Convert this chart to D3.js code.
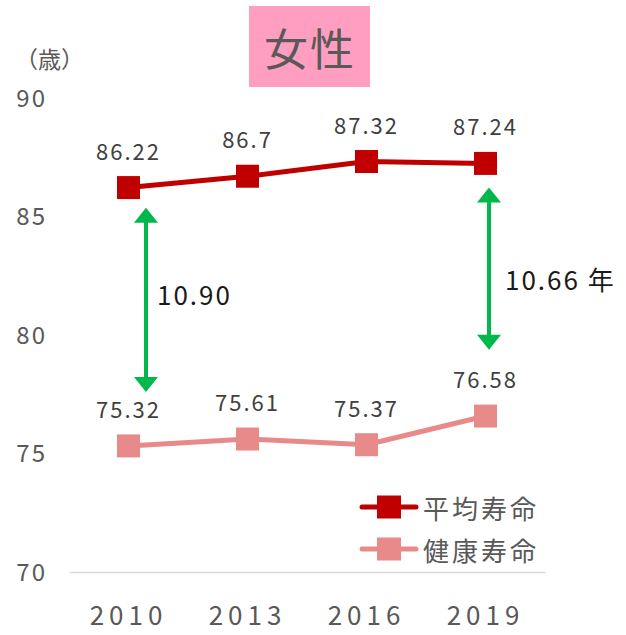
<!DOCTYPE html>
<html>
<head>
<meta charset="utf-8">
<script src="https://cdn.jsdelivr.net/npm/d3@7"></script>
<style>
  html, body { margin: 0; padding: 0; background: #fff; }
  svg { display: block; }
  text { font-family: "Noto Sans CJK JP", "Noto Sans", sans-serif; }
</style>
</head>
<body>
<svg id="chart" width="626" height="635"></svg>
<script>
const years = ["2010", "2013", "2016", "2019"];
const averageLife = [86.22, 86.7, 87.32, 87.24];
const healthyLife = [75.32, 75.61, 75.37, 76.58];
const yTicks = [70, 75, 80, 85, 90];
const seriesNames = ["平均寿命", "健康寿命"];
const titleText = "女性";
const unitText = "（歳）";
// gap annotations: year, upper value, lower value, label
const gapYears = ["2010", "2019"];
const gapTop = [85.37, 86.22];
const gapBottom = [77.6, 79.38];
const gapLabels = ["10.90", "10.66 年"];

const colors = ["#C00000", "#E88A8A"];
const green = "#00B84C";
const textGray = "#595959";

const svg = d3.select("#chart");

const x = d3.scaleBand().domain(years).range([69, 545]).padding(0);
const y = d3.scaleLinear().domain([70, 90]).range([572, 98]);
const cx = d => x(d) + x.bandwidth() / 2;

// title box
svg.append("rect").attr("x", 249).attr("y", 6).attr("width", 121).attr("height", 81).attr("fill", "#FF9EC0");
svg.append("text").attr("x", 310).attr("y", 47).attr("text-anchor", "middle")
  .attr("dominant-baseline", "central").attr("font-size", 44).attr("fill", textGray)
  .attr("letter-spacing", 2).text(titleText);

// unit
svg.append("text").attr("x", 15).attr("y", 58).attr("dominant-baseline", "central")
  .attr("font-size", 23).attr("fill", textGray).text(unitText);

// y axis labels
const yAxis = d3.axisLeft(y).tickValues(yTicks).tickSize(0).tickPadding(0);
const yg = svg.append("g").attr("transform", "translate(47,0)").call(yAxis);
yg.select(".domain").remove();
yg.selectAll("text").attr("font-size", 24).attr("fill", textGray)
  .attr("font-family", "'Noto Sans CJK JP', sans-serif").attr("letter-spacing", 2).attr("dy", "0.35em");

// x axis
const xAxis = d3.axisBottom(x).tickSize(0).tickPadding(0);
const xg = svg.append("g").attr("transform", "translate(0,572)").call(xAxis);
xg.select(".domain").attr("stroke", "#D9D9D9").attr("stroke-width", 1.5);
xg.selectAll("text").attr("font-size", 26).attr("fill", textGray)
  .attr("font-family", "'Noto Sans CJK JP', sans-serif")
  .attr("letter-spacing", 5).attr("y", 44).attr("dy", "0.35em");

// series
const series = [averageLife, healthyLife];
series.forEach((vals, i) => {
  const pts = years.map((yr, j) => ({ yr, v: vals[j] }));
  svg.append("path").datum(pts)
    .attr("fill", "none").attr("stroke", colors[i]).attr("stroke-width", 5)
    .attr("stroke-linejoin", "round")
    .attr("d", d3.line().x(d => cx(d.yr)).y(d => y(d.v)));
  svg.selectAll(null).data(pts).enter().append("rect")
    .attr("x", d => cx(d.yr) - 11.5).attr("y", d => y(d.v) - 11.5)
    .attr("width", 23).attr("height", 23).attr("fill", colors[i]);
  svg.selectAll(null).data(pts).enter().append("text")
    .attr("x", d => cx(d.yr)).attr("y", d => y(d.v) - 38)
    .attr("text-anchor", "middle").attr("dominant-baseline", "central")
    .attr("font-size", 22).attr("letter-spacing", 2).attr("fill", "#404040")
    .text(d => d.v);
});

// gap arrows
const arrowDx = [17.5, 3.5];
const labelDx = [11, 16];
const labelValue = [81.77, 82.4];
gapYears.forEach((yr, i) => {
  const ax = cx(yr) + arrowDx[i];
  const yt = y(gapTop[i]), yb = y(gapBottom[i]);
  const hw = 12, hh = 15;
  svg.append("line").attr("x1", ax).attr("x2", ax).attr("y1", yt + hh - 1).attr("y2", yb - hh + 1)
    .attr("stroke", green).attr("stroke-width", 4);
  svg.append("path").attr("fill", green)
    .attr("d", `M${ax},${yt} L${ax + hw},${yt + hh} L${ax - hw},${yt + hh} Z`);
  svg.append("path").attr("fill", green)
    .attr("d", `M${ax},${yb} L${ax + hw},${yb - hh} L${ax - hw},${yb - hh} Z`);
  svg.append("text").attr("x", ax + labelDx[i]).attr("y", y(labelValue[i]))
    .attr("dominant-baseline", "central").attr("font-size", 26).attr("letter-spacing", 2)
    .attr("fill", "#1a1a1a").text(gapLabels[i]);
});

// legend
seriesNames.forEach((name, i) => {
  const ly = 507 + i * 42;
  const g = svg.append("g");
  g.append("line").attr("x1", 362).attr("x2", 416).attr("y1", ly).attr("y2", ly)
    .attr("stroke", colors[i]).attr("stroke-width", 5).attr("stroke-linecap", "round");
  g.append("rect").attr("x", 377).attr("y", ly - 11.5).attr("width", 24).attr("height", 23).attr("fill", colors[i]);
  g.append("text").attr("x", 423).attr("y", ly).attr("dominant-baseline", "central")
    .attr("font-size", 26).attr("letter-spacing", 3).attr("fill", textGray).text(name);
});
</script>
</body>
</html>
